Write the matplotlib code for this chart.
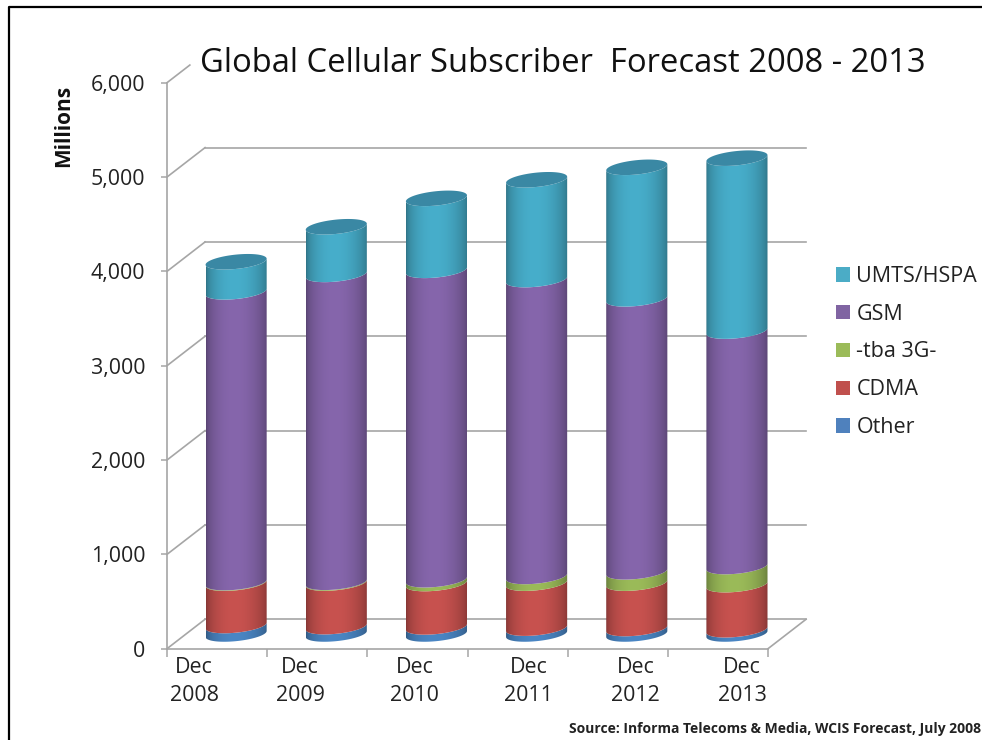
import numpy as np
import matplotlib
matplotlib.use('Agg')
import matplotlib.pyplot as plt
from matplotlib.lines import Line2D
from matplotlib.patches import Patch, Polygon

plt.rcParams['font.family'] = ['Open Sans', 'DejaVu Sans']

# values (millions)
years = ['2008', '2009', '2010', '2011', '2012', '2013']
other = [90, 78, 75, 62, 58, 45]
cdma = [449, 462, 460, 477, 481, 478]
tba = [6, 8, 40, 71, 120, 192]
gsm = [3082, 3264, 3280, 3147, 2894, 2496]
umts = [319, 505, 763, 1058, 1394, 1833]

series = [other, cdma, tba, gsm, umts]
names = ['Other', 'CDMA', '-tba 3G-', 'GSM', 'UMTS/HSPA']
bar_colors = ['#4A86C4', '#C8524F', '#9BBB59', '#8666AC', '#47AECB']
legend_colors = ['#4F81BD', '#C0504D', '#9BBB59', '#8064A2', '#4BACC6']
top_color = '#3A88A4'
grid_color = '#A6A6A6'

y_ticks = [0, 1000, 2000, 3000, 4000, 5000, 6000]
label_pos = [0.27, 1.33, 2.47, 3.61, 4.68, 5.74]

# fake 3d: how far the back wall sits from the front, in data units
depth_x = 0.38
depth_y = 312
half_w = 0.305
ell_b = 76
ell_s = 32

fig = plt.figure(figsize=(9.82, 7.4), dpi=100)
ax = fig.add_axes([167 / 982, 1 - 648.7 / 740, 601 / 982, 566 / 740])


def front_arc(cx, cy):
    t = np.linspace(np.pi, 2 * np.pi, 40)
    return cx + half_w * np.cos(t), cy + ell_s * np.cos(t) + ell_b * np.sin(t)


def shade(color):
    u = np.linspace(0, 1, 80)
    f = 0.66 + 0.34 * np.sin(np.pi * u ** 0.9) ** 0.6
    rgb = np.array(matplotlib.colors.to_rgb(color))
    return np.clip(rgb[None, None, :] * f[None, :, None], 0, 1)


# walls and floor
for v in y_ticks[:-1]:
    ax.plot([0, depth_x], [v, v + depth_y], color=grid_color, lw=1.2, clip_on=False, zorder=1)
    ax.plot([depth_x, 6 + depth_x], [v + depth_y, v + depth_y], color=grid_color, lw=1.2,
            clip_on=False, zorder=1)
ax.plot([0, depth_x * 0.6], [6000, 6000 + depth_y * 0.6], color=grid_color, lw=1.2, clip_on=False, zorder=1)
ax.plot([6, 6 + depth_x], [0, depth_y], color=grid_color, lw=1.2, clip_on=False, zorder=1)

# stacked cylinders
for i in range(len(years)):
    cx = i + 0.5 + depth_x / 2
    base = depth_y / 2
    for vals, col in zip(series, bar_colors):
        x1, y1 = front_arc(cx, base)
        x2, y2 = front_arc(cx, base + vals[i])
        verts = np.vstack([np.column_stack([x1, y1]), np.column_stack([x2, y2])[::-1]])
        im = ax.imshow(shade(col), extent=[cx - half_w, cx + half_w, 0, 6000], aspect='auto',
                       interpolation='bilinear', zorder=3)
        poly = Polygon(verts, closed=True, transform=ax.transData, fc='none', ec='none')
        ax.add_patch(poly)
        im.set_clip_path(poly)
        base += vals[i]
    t = np.linspace(0, 2 * np.pi, 80)
    ax.fill(cx + half_w * np.cos(t), base + ell_s * np.cos(t) + ell_b * np.sin(t),
            color=top_color, lw=0, zorder=4)

ax.set_xlim(0, 6)
ax.set_ylim(0, 6000)
ax.patch.set_alpha(0)

for s in ['top', 'right']:
    ax.spines[s].set_visible(False)
for s in ['left', 'bottom']:
    ax.spines[s].set_color(grid_color)
    ax.spines[s].set_linewidth(1.2)

ax.set_yticks(y_ticks)
ax.set_yticklabels([f'{v:,}' for v in y_ticks], fontsize=15.4, color='#222222')
ax.tick_params(axis='y', length=4.5, width=1.1, color=grid_color, pad=11)
ax.set_xticks(range(7), minor=True)
ax.tick_params(axis='x', which='minor', length=5.5, width=1.1, color=grid_color)
ax.set_xticks(label_pos)
ax.set_xticklabels(['Dec\n' + y for y in years], fontsize=15.4, color='#222222', linespacing=1.42)
ax.tick_params(axis='x', which='major', length=0, pad=6)

fig.text(563 / 982, 1 - 63 / 740, 'Global Cellular Subscriber  Forecast 2008 - 2013', fontsize=23.6,
         color='#111111', ha='center', va='center')
fig.text(64 / 982, 1 - 126 / 740, 'Millions', fontsize=15, fontweight='bold', rotation=90,
         color='#111111', ha='center', va='center')
fig.text(981 / 982, 1 - 729 / 740, 'Source: Informa Telecoms & Media, WCIS Forecast, July 2008',
         fontsize=10, fontweight='bold', color='#222222', ha='right', va='center')

handles = [Patch(fc=c, ec='none') for c in legend_colors[::-1]]
fig.legend(handles, names[::-1], loc='center left', bbox_to_anchor=(836 / 982, 1 - 352 / 740),
           frameon=False, fontsize=15.5, handlelength=0.65, handleheight=0.65, handletextpad=0.3,
           labelspacing=0.78, borderpad=0, borderaxespad=0, labelcolor='#222222')

# black slide frame
fig.add_artist(Line2D([9 / 982, 9 / 982, 1], [0, 1 - 7 / 740, 1 - 7 / 740], color='black', lw=1.6))

fig.savefig('out.png', dpi=100)
